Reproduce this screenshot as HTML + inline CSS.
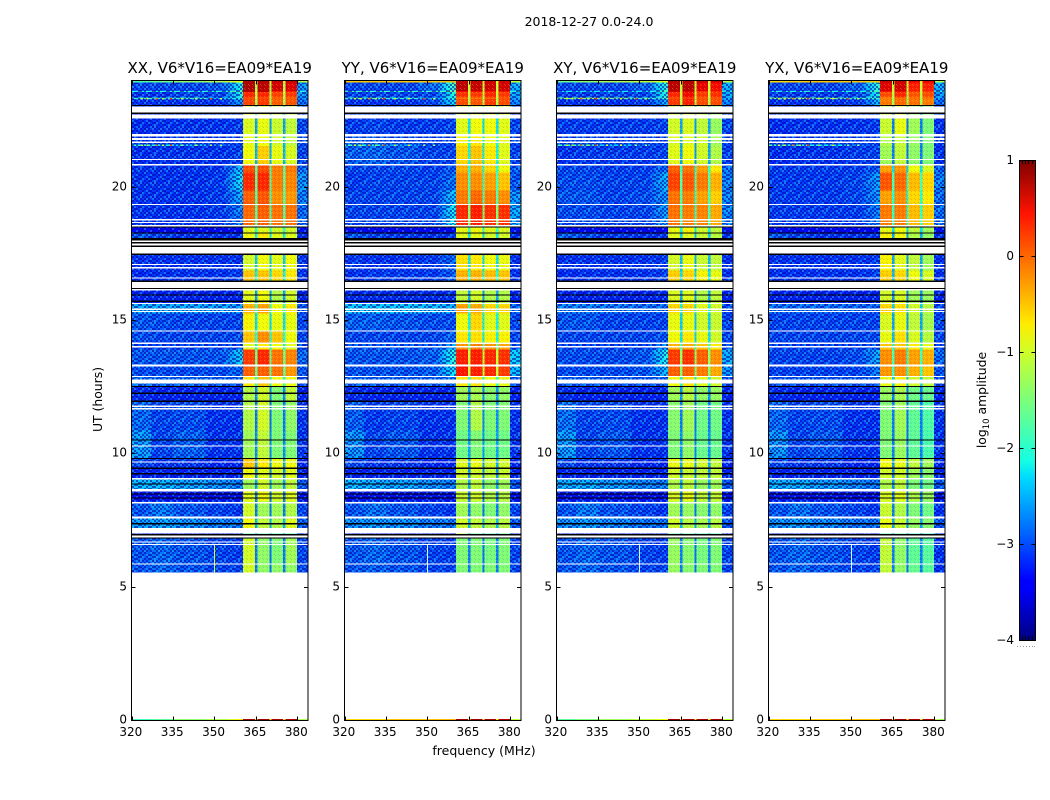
<!DOCTYPE html>
<html lang="en">
<head>
<meta charset="utf-8">
<title>2018-12-27 0.0-24.0</title>
<style>
html,body{margin:0;padding:0;background:#fff;width:1050px;height:800px;overflow:hidden}
svg{display:block}
text{font-family:"DejaVu Sans","Liberation Sans",sans-serif;fill:#000}
.tick{font-size:12px}
</style>
</head>
<body>
<svg id="figure" width="1050" height="800" viewBox="0 0 1050 800" xmlns="http://www.w3.org/2000/svg">
  <defs>
    <pattern id="speckA" width="14" height="14" patternUnits="userSpaceOnUse">
      <path fill="#0006a8" opacity=".6" d="M2 0h2v2h-2zM6 0h2v2h-2zM12 0h2v2h-2zM0 2h2v2h-2zM4 2h2v2h-2zM8 2h2v2h-2zM10 4h2v2h-2zM2 4h2v2h-2zM6 4h2v2h-2zM0 6h2v2h-2zM12 6h2v2h-2zM4 6h2v2h-2zM8 8h2v2h-2zM2 8h2v2h-2zM10 8h2v2h-2zM6 10h2v2h-2zM0 10h2v2h-2zM12 10h2v2h-2zM4 12h2v2h-2zM8 12h2v2h-2zM10 12h2v2h-2z"/>
      <path fill="#30c0ff" opacity=".42" d="M0 0h2v2h-2zM10 0h2v2h-2zM6 2h2v2h-2zM12 2h2v2h-2zM4 4h2v2h-2zM10 6h2v2h-2zM6 8h2v2h-2zM2 10h2v2h-2zM8 10h2v2h-2zM0 12h2v2h-2z"/>
    </pattern>
    <pattern id="hatch" width="4" height="4" patternUnits="userSpaceOnUse">
      <rect x="0" y="0" width="1" height="1" fill="#fff23a" opacity=".28"/><rect x="1" y="1" width="1" height="1" fill="#fff23a" opacity=".2"/>
      <rect x="2" y="2" width="1" height="1" fill="#b00000" opacity=".16"/><rect x="3" y="3" width="1" height="1" fill="#b00000" opacity=".16"/>
    </pattern>
    <linearGradient id="jetGradient" x1="0" y1="1" x2="0" y2="0"></linearGradient>
  </defs>
  <text x="589" y="26" text-anchor="middle" font-size="12.5">2018-12-27 0.0-24.0</text>
  <text x="484" y="755" text-anchor="middle" font-size="12.5">frequency (MHz)</text>
  <text x="0" y="0" transform="translate(102,399.5) rotate(-90)" text-anchor="middle" font-size="12.4">UT (hours)</text>
  <text x="0" y="0" transform="translate(986,400) rotate(-90)" text-anchor="middle" font-size="12.4">log<tspan font-size="8.5" dy="3">10</tspan><tspan dy="-3"> amplitude</tspan></text>
</svg>
<script>
// ---------- chart data ----------
const panelTitles = ["XX, V6*V16=EA09*EA19", "YY, V6*V16=EA09*EA19", "XY, V6*V16=EA09*EA19", "YX, V6*V16=EA09*EA19"];
const xTickValues = [320, 335, 350, 365, 380];
const yTickValues = [0, 5, 10, 15, 20];
const colorbarTicks = [1, 0, -1, -2, -3, -4];
const freqEdges = [320, 327, 335, 347, 354, 360.5, 364.8, 365.6, 370, 370.7, 375, 375.8, 380, 384];
const hourEdges = [24,23.92,23.6,23.56,23.36,23.31,23.06,22,21.6,21.55,20.81,20.55,19.87,19.35,18.52,18.3,17.47,16.87,16.12,15.64,15.26,14.62,14.14,13.91,13.35,12.9,12.52,12,10.87,9.82,9.49,9.07,8.59,8.21,7.65,7.2,6.9,5.89,5.55];
const zoneColumns = [0, 1, 2, 3, 4, 5, 9, 6, 9, 7, 9, 8, 10];
// each row: low1, low2, low3, low4, shoulder, sub1, sub2, sub3, sub4, gap, right
const amplitudeXX = [
[-1.8,-1.6,-1.4,-1.2,-0.8,.8,.8,.7,.7,-.9,-1.2],
[-3,-3,-3,-2.9,-2.1,.8,.75,.65,.6,-1.2,-2.6],
[-2.1,-2,-2,-2,-1.5,.75,.75,.4,.4,-1,-2],
[-3.1,-3.1,-3,-3,-2.1,.35,.35,.2,.25,-1.2,-2.6],
[-1.9,-1.9,-1.9,-2.4,-2,.1,.1,0,0,-1.2,-2.6],
[-3.1,-3.1,-3.1,-3.1,-2.6,.2,.25,.05,.1,-1.3,-2.8],
[-3.15,-3.1,-3.1,-3.1,-3.05,-.95,-.85,-1.05,-1.1,-2.6,-3],
[-3.1,-3.1,-3.05,-3.1,-3.05,-.85,-.8,-1,-1.1,-2.5,-3],
[-2,-2.1,-2.3,-2.8,-3,-.85,-.8,-1,-1.1,-2.5,-3],
[-3.15,-3.1,-3.1,-3.1,-3,-.8,-.55,-.85,-.95,-2.5,-3],
[-3.1,-3.1,-3.1,-3.1,-2.4,.15,.15,-.1,-.1,-1.8,-2.8],
[-3.1,-3.1,-3.1,-3.05,-2.2,.35,.35,-.1,-.15,-1.7,-2.6],
[-3.1,-3.1,-3.1,-3.05,-2.5,.05,.1,-.2,-.25,-1.8,-2.7],
[-3.1,-3.1,-3.1,-3.05,-2.7,0,.05,-.05,-.05,-1.8,-2.8],
[-3.35,-3.4,-3.4,-3.4,-3.4,-.9,-.9,-1,-1,-2,-3.3],
[-2.9,-3,-3.1,-3.1,-3.1,-.8,-.7,-.9,-.9,-2.2,-3.1],
[-3.1,-3.1,-3.1,-3.1,-3.1,-1,-.8,-.9,-.8,-2.4,-3.1],
[-3.15,-3.1,-3.1,-3.1,-3,-.5,-.5,-.6,-.7,-2.2,-3.1],
[-3.2,-3.2,-3.2,-3.2,-3.2,-.9,-.8,-1.2,-1,-2.6,-3.2],
[-2.5,-2.5,-2.5,-2.55,-2.6,-.4,-.3,-.8,-.7,-2,-2.9],
[-2.9,-2.95,-3,-3,-3,-.75,-.8,-.85,-.85,-2.3,-3],
[-2.95,-3,-3,-3,-2.95,-.5,-.2,-.5,-.8,-2.1,-3],
[-3,-3,-3,-3,-3,-.9,-.7,-.8,-.9,-2.2,-3],
[-2.9,-2.9,-2.9,-2.9,-2.3,.25,.35,-.05,-.15,-1.6,-2.8],
[-2.95,-2.95,-2.95,-2.95,-2.8,.05,.05,-.05,-.25,-1.7,-2.9],
[-2.75,-2.8,-2.8,-2.85,-2.9,-.7,-.5,-.8,-.8,-2.1,-3],
[-3.15,-3.2,-3.2,-3.2,-3.2,-1.2,-1,-1.5,-1.1,-2.7,-3.2],
[-2.8,-3,-2.95,-3.1,-3.1,-1.2,-1,-1.5,-1.4,-2.8,-3.1],
[-2.55,-3,-2.85,-3.1,-3.1,-1.3,-1.1,-1.5,-1.5,-2.7,-3.1],
[-3,-3.1,-3.1,-3.2,-3.2,-.5,-.7,-.8,-.8,-2.6,-3.2],
[-3.2,-3.2,-3.2,-3.2,-3.2,-.8,-.9,-1,-.9,-2.7,-3.2],
[-2.4,-2.4,-2.5,-2.6,-2.7,-1.3,-1,-1.3,-1.1,-2.6,-2.9],
[-3.3,-3.3,-3.3,-3.3,-3.3,-.9,-.8,-1,-.9,-2.8,-3.3],
[-2.9,-2.7,-2.9,-3,-3.1,-1,-1.3,-1.3,-1.2,-2.8,-3],
[-2.55,-2.5,-2.6,-2.7,-2.7,-.8,-1.1,-1.2,-.9,-2.5,-2.9],
[-3.3,-3.3,-3.3,-3.3,-3.3,-1.8,-1.7,-1.9,-1.8,-2.8,-3.3],
[-2.9,-2.8,-2.9,-3,-3.05,-1,-1.4,-1.5,-1.3,-2.8,-3],
[-2.9,-2.8,-2.9,-3,-3,-1,-1.4,-1.4,-1.4,-2.8,-3]
];
const amplitudeYY = [
[-.5,-.5,-.5,-.5,-.4,.7,.7,.65,.65,-.9,-1.1],
[-3,-3,-3,-2.8,-1.8,.75,.7,.65,.65,-1.1,-2.5],
[-1.9,-1.9,-1.9,-1.9,-1.5,.5,.5,.45,.45,-.9,-2],
[-3,-3,-3,-3,-2,.3,.25,.35,.25,-1.1,-2.5],
[-1.8,-1.8,-2,-2.5,-2,-.1,-.1,0,.05,-1.2,-2.6],
[-3.1,-3.1,-3.1,-3,-2.2,.15,.1,.25,.15,-1.2,-2.7],
[-3.05,-3,-3.05,-3.05,-3,-.9,-.8,-.8,-.9,-2.3,-3],
[-2.9,-2.9,-3,-3.05,-3,-.75,-.7,-.8,-.9,-2.2,-3],
[-1.9,-2.1,-2.5,-2.9,-3,-.7,-.65,-.8,-.9,-2.2,-3],
[-2.85,-2.8,-2.9,-3,-3,-.6,-.5,-.7,-.9,-2.2,-3],
[-3,-3,-3,-3.05,-2.9,-.4,-.4,-.6,-.8,-2.1,-2.9],
[-3.05,-3,-3,-3,-2.75,-.2,-.2,-.3,-.5,-1.9,-2.9],
[-3,-3,-3,-3,-2.35,-.1,0,-.1,-.2,-1.8,-2.6],
[-3,-3,-3,-3,-2.15,.35,.4,.3,.3,-1.5,-2.5],
[-3.35,-3.4,-3.4,-3.4,-3.35,-.85,-.8,-.9,-.95,-2,-3.3],
[-2.9,-3,-3.05,-3.1,-3.05,-.9,-.85,-1,-1,-2.3,-3.1],
[-3.05,-3.1,-3.1,-3.05,-2.8,-.65,-.7,-.8,-.85,-2.3,-3.1],
[-3.1,-3.05,-3.05,-3.05,-2.85,-.4,-.4,-.45,-.5,-2.1,-3.1],
[-3.15,-3.15,-3.15,-3.15,-3.1,-1.1,-1,-1.2,-1.2,-2.6,-3.2],
[-2.35,-2.35,-2.35,-2.4,-2.5,-.3,-.35,-.6,-.6,-2,-2.8],
[-2.85,-2.85,-2.9,-2.95,-2.95,-.8,-.6,-.9,-.9,-2.2,-3],
[-3,-3,-3,-3,-2.8,-.7,-.65,-.75,-.75,-2.2,-3],
[-2.9,-2.9,-2.9,-2.9,-2.5,-.2,-.1,-.2,-.3,-1.8,-2.9],
[-2.9,-2.9,-2.9,-2.85,-2,.4,.4,.35,.3,-1.1,-2.3],
[-2.9,-2.9,-2.9,-2.85,-2.2,.45,.4,.35,.25,-1.1,-2.4],
[-2.8,-2.85,-2.85,-2.85,-2.75,-.7,-.65,-.8,-.85,-2.1,-2.9],
[-3.15,-3.2,-3.2,-3.2,-3.2,-1.3,-1.25,-1.45,-1.4,-2.7,-3.2],
[-2.85,-3.05,-3,-3.1,-3.1,-1.5,-1.2,-1.5,-1.5,-2.7,-3.1],
[-2.6,-3,-2.9,-3.1,-3.1,-1.6,-1.5,-1.6,-1.6,-2.6,-3.1],
[-3,-3.1,-3.1,-3.2,-3.2,-.9,-.85,-1,-1,-2.6,-3.2],
[-3.2,-3.2,-3.2,-3.2,-3.2,-1,-1,-1.1,-1.05,-2.7,-3.2],
[-2.4,-2.45,-2.5,-2.6,-2.7,-1.2,-1.1,-1.4,-1.3,-2.6,-2.9],
[-3.3,-3.3,-3.3,-3.3,-3.3,-1.05,-1,-1.2,-1.15,-2.8,-3.3],
[-2.9,-2.75,-2.9,-3,-3.1,-1.3,-1.4,-1.5,-1.4,-2.8,-3],
[-2.6,-2.55,-2.6,-2.7,-2.75,-1,-1.1,-1.2,-1.15,-2.5,-2.9],
[-3.3,-3.3,-3.3,-3.3,-3.3,-1,-1.6,-1.8,-1.7,-2.8,-3.3],
[-2.9,-2.8,-2.9,-3,-3.05,-1.5,-1.5,-1.55,-1.5,-2.8,-3],
[-2.9,-2.85,-2.9,-3,-3,-1.5,-1.5,-1.5,-1.5,-2.8,-3]
];
const amplitudeXY = [
[-1.6,-1.4,-1.2,-1.1,-.9,.75,.75,.7,.65,-.9,-1.1],
[-3,-3,-3,-2.85,-2,.75,.75,.55,.5,-1.1,-2.5],
[-2.2,-2.2,-2.2,-2.2,-1.8,.6,.6,.3,.3,-1,-2.1],
[-3.05,-3.05,-3,-3,-2,.35,.5,.25,.3,-1.1,-2.5],
[-1.4,-1.3,-1.5,-1.9,-1.9,.1,.2,.05,.05,-1.2,-2.6],
[-3.1,-3.1,-3.1,-3.05,-2.5,.25,.4,.15,.15,-1.2,-2.7],
[-3.05,-3.05,-3.05,-3.05,-3,-1,-.95,-1.1,-1.35,-2.6,-3],
[-3.05,-3,-3.05,-3.05,-3,-.95,-.9,-1,-1.3,-2.6,-3],
[-1.9,-1.9,-2.3,-2.8,-3,-.95,-.9,-1,-1.3,-2.6,-3],
[-3.1,-3.05,-3.05,-3.05,-3,-.9,-.8,-1,-1.2,-2.6,-3],
[-3,-3,-3.05,-3.05,-2.8,.05,-.05,-.3,-.7,-2,-2.8],
[-2.95,-2.95,-3,-3,-2.45,.2,.1,-.1,-.4,-1.8,-2.7],
[-2.9,-2.9,-3,-2.95,-2.6,-.05,-.1,-.3,-.55,-1.9,-2.7],
[-2.95,-2.95,-3,-3,-2.55,-.05,-.1,-.15,-.35,-1.9,-2.7],
[-3.35,-3.4,-3.4,-3.4,-3.35,-.85,-.75,-1,-1.1,-2.2,-3.3],
[-2.85,-2.95,-3.05,-3.1,-3.1,-.9,-.9,-1.05,-1.15,-2.4,-3.1],
[-3.1,-3.1,-3.1,-3.1,-3.05,-1,-.85,-1.05,-1.1,-2.5,-3.1],
[-3.15,-3.1,-3.1,-3.1,-3,-.55,-.6,-.75,-.85,-2.3,-3.1],
[-3.2,-3.2,-3.2,-3.2,-3.15,-.95,-.9,-1.2,-1.1,-2.6,-3.2],
[-2.7,-2.7,-2.75,-2.8,-2.8,-.6,-.6,-.9,-1,-2.2,-3],
[-2.9,-2.9,-3,-3,-3,-.85,-.85,-1,-1.05,-2.4,-3],
[-3,-3,-3,-3,-2.9,-.8,-.7,-.85,-1,-2.3,-3],
[-3,-3,-3,-3,-2.6,-.4,-.35,-.5,-.7,-2,-2.9],
[-2.95,-2.95,-2.95,-2.9,-2.1,.25,.3,.05,-.2,-1.4,-2.5],
[-2.95,-2.95,-2.95,-2.9,-2.4,.05,.05,-.1,-.35,-1.5,-2.6],
[-2.85,-2.85,-2.9,-2.9,-2.85,-.8,-.65,-.9,-1,-2.2,-3],
[-3.15,-3.2,-3.2,-3.2,-3.2,-1.3,-1.15,-1.4,-1.35,-2.7,-3.2],
[-2.75,-3,-2.95,-3.1,-3.1,-1.45,-1.3,-1.6,-1.6,-2.8,-3.1],
[-2.55,-3,-2.9,-3.1,-3.1,-1.5,-1.4,-1.65,-1.65,-2.7,-3.1],
[-3,-3.1,-3.1,-3.2,-3.2,-.85,-.85,-1,-1.1,-2.6,-3.2],
[-3.2,-3.2,-3.2,-3.2,-3.2,-1,-1.05,-1.1,-1.1,-2.7,-3.2],
[-2.45,-2.45,-2.55,-2.65,-2.7,-1.2,-1.1,-1.35,-1.3,-2.6,-2.9],
[-3.3,-3.3,-3.3,-3.3,-3.3,-.95,-.85,-1.1,-1.05,-2.8,-3.3],
[-2.9,-2.7,-2.9,-3,-3.1,-1.3,-1.35,-1.45,-1.4,-2.8,-3],
[-2.6,-2.55,-2.65,-2.75,-2.75,-1,-1.15,-1.25,-1.15,-2.5,-2.9],
[-3.3,-3.3,-3.3,-3.3,-3.3,-1.7,-1.6,-1.85,-1.8,-2.8,-3.3],
[-2.9,-2.8,-2.9,-3,-3.05,-1.35,-1.45,-1.55,-1.5,-2.8,-3],
[-2.9,-2.8,-2.9,-3,-3,-1.35,-1.45,-1.5,-1.5,-2.8,-3]
];
const amplitudeYX = [
[-.6,-.55,-.5,-.5,-.5,.7,.7,.55,.55,-.9,-1.2],
[-3,-3,-3,-2.85,-2,.6,.65,.4,.4,-1.1,-2.5],
[-2.1,-2.1,-2.1,-2.1,-1.7,.45,.5,.25,.25,-1,-2],
[-3.05,-3.05,-3.05,-3,-2.1,.15,.35,.1,.15,-1.2,-2.6],
[-1.5,-1.4,-1.5,-1.9,-1.9,-.2,-.1,-.1,-.1,-1.3,-2.6],
[-3.1,-3.1,-3.1,-3.05,-2.4,-.1,0,-.05,-.1,-1.3,-2.8],
[-3.15,-3.1,-3.1,-3.1,-3.05,-1.05,-.85,-1.3,-1.5,-2.8,-3.1],
[-3.1,-3.1,-3.05,-3.05,-3.05,-1.2,-1.05,-1.35,-1.5,-2.8,-3.1],
[-1.9,-1.9,-2.2,-2.7,-3,-1.2,-1.05,-1.35,-1.5,-2.8,-3.1],
[-3.15,-3.1,-3.1,-3.05,-3,-1.3,-1.1,-1.4,-1.5,-2.8,-3.1],
[-3.05,-3.05,-3.05,-3.05,-2.9,-.3,-.25,-.8,-.95,-2.3,-2.9],
[-3.05,-3.05,-3.05,-3,-2.55,.1,0,-.45,-.6,-1.9,-2.7],
[-3.05,-3.05,-3.05,-3,-2.6,-.3,-.2,-.6,-.7,-2.1,-2.8],
[-3.05,-3.05,-3.05,-3.05,-2.7,-.1,-.1,-.45,-.55,-2,-2.8],
[-3.35,-3.4,-3.4,-3.4,-3.4,-.85,-.8,-1.1,-1.3,-2.3,-3.3],
[-2.9,-3,-3.1,-3.1,-3.1,-.75,-.8,-1.2,-1.4,-2.6,-3.1],
[-3.1,-3.1,-3.1,-3.1,-3.05,-.75,-.9,-1.1,-1.3,-2.6,-3.1],
[-3.1,-3.1,-3.1,-3.1,-3,-.55,-.6,-.8,-.95,-2.5,-3.1],
[-3.2,-3.2,-3.2,-3.2,-3.2,-1,-.95,-1.3,-1.35,-2.7,-3.2],
[-2.8,-2.8,-2.8,-2.85,-2.85,-.6,-.65,-1,-1.15,-2.4,-3],
[-3,-3,-3,-3,-3,-.95,-.85,-1.1,-1.25,-2.6,-3],
[-3,-3,-3,-3,-2.95,-.85,-.65,-.95,-1.15,-2.5,-3],
[-3,-3,-3,-3,-2.85,-.5,-.5,-.7,-.85,-2.2,-3],
[-3,-3,-3,-2.95,-2.5,-.2,-.1,-.3,-.4,-1.9,-2.8],
[-3,-3,-3,-3,-2.7,-.25,-.2,-.4,-.5,-2,-2.9],
[-2.9,-2.9,-2.9,-2.9,-2.9,-.85,-.75,-1,-1.1,-2.4,-3],
[-3.15,-3.2,-3.2,-3.2,-3.2,-1.35,-1.25,-1.6,-1.65,-2.8,-3.2],
[-2.8,-3,-2.95,-3.1,-3.1,-1.5,-1.3,-1.7,-1.8,-2.8,-3.1],
[-2.6,-3,-2.9,-3.1,-3.1,-1.5,-1.35,-1.7,-1.85,-2.8,-3.1],
[-3,-3.1,-3.1,-3.2,-3.2,-.8,-.85,-1.1,-1.3,-2.7,-3.2],
[-3.2,-3.2,-3.2,-3.2,-3.2,-1,-1,-1.3,-1.45,-2.8,-3.2],
[-2.45,-2.45,-2.55,-2.65,-2.75,-1.2,-1.1,-1.5,-1.6,-2.7,-2.9],
[-3.3,-3.3,-3.3,-3.3,-3.3,-.95,-.9,-1.2,-1.35,-2.8,-3.3],
[-2.9,-2.75,-2.9,-3,-3.1,-1.05,-1.2,-1.5,-1.6,-2.8,-3.1],
[-2.6,-2.55,-2.65,-2.75,-2.75,-.85,-1.05,-1.35,-1.45,-2.6,-2.9],
[-3.3,-3.3,-3.3,-3.3,-3.3,-1.7,-1.65,-1.95,-2,-2.9,-3.3],
[-2.9,-2.8,-2.9,-3,-3.05,-1.1,-1.4,-1.7,-1.75,-2.8,-3.1],
[-2.9,-2.8,-2.9,-3,-3,-1.1,-1.4,-1.65,-1.75,-2.8,-3.1]
];
const baselineHours = [0.055, 0];
const baselineXX = [-1.9,-1.7,-1.4,-1.2,-.7,.85,.85,.8,.8,-.8,-1.2];
const baselineYY = [-.6,-.6,-.5,-.5,-.4,.85,.85,.8,.8,-.8,-1.1];
const baselineXY = [-1.7,-1.5,-1.3,-1.1,-.8,.85,.85,.8,.8,-.8,-1.1];
const baselineYX = [-.6,-.6,-.55,-.5,-.5,.85,.85,.8,.8,-.8,-1.2];
const spikeHours = [23.33, 21.575];
const spikeFreqs = [323.5, 325.5, 328.7, 331, 334, 338, 343, 348.5, 352];
const spikeValuesUpper = [-1, -.9, -.1, -1.1, .35, -1, -1, .15, -1];
const spikeValuesLower = [-1, -1.1, -.1, -1.2, .25, -1.1, -.9, -1.2, -1.3];
const channelSpikeFreq = 350;
const channelSpikeHours = [6.6, 5.55];
const channelSpikeValues = [-1, -1.75, -1.75, -1.75];
const flaggedWhite = [[23.03,22.8],[22.73,22.58],[21.99,21.9],[21.85,21.77],[21.71,21.66],[21.06,21.02],[20.87,20.81],[19.37,19.33],[18.81,18.75],[18.69,18.65],[18.58,18.53],[18,17.94],[17.89,17.81],[17.76,17.51],[17.12,17.08],[17,16.95],[16.61,16.58],[16.44,16.22],[16.18,16.13],[15.66,15.62],[15.45,15.39],[15.36,15.32],[14.63,14.59],[14.18,14.12],[14.04,13.99],[13.35,13.28],[12.92,12.88],[12.79,12.64],[11.81,11.76],[11.71,11.67],[10.31,10.28],[9.71,9.68],[9.09,9.04],[8.68,8.59],[8.19,8.14],[7.65,7.58],[7.21,7.01],[6.93,6.87],[6.72,6.68],[6.62,6.59],[5.89,5.85]];
const flaggedBlack = [[23.09,23.04],[22.8,22.74],[18.53,18.49],[18.3,18.26],[18.09,18],[17.94,17.89],[17.81,17.76],[17.51,17.46],[16.5,16.44],[16.22,16.18],[15.98,15.94],[15.75,15.7],[12.54,12.51],[12.3,12.24],[12,11.95],[10.54,10.5],[9.84,9.81],[9.49,9.44],[9.28,9.23],[8.89,8.85],[8.52,8.48],[8.36,8.33],[7.4,7.35],[7,6.93],[6.86,6.83]];
const amplitudePanels = [amplitudeXX, amplitudeYY, amplitudeXY, amplitudeYX];
const baselinePanels = [baselineXX, baselineYY, baselineXY, baselineYX];
const panelLefts = [131.5, 344.5, 556.5, 768.5];

// ---------- axes and colormap ----------
const SVGNS = "http://www.w3.org/2000/svg";
const svg = document.getElementById("figure");
const plotTop = 80.5, plotBottom = 720.5, plotWidth = 176.5;
const freqMin = 320, freqMax = 384, hourMax = 24;
const cbTop = 160, cbBottom = 640, cbLeft = 1019.5, cbRight = 1035.5, vMin = -4, vMax = 1;
function yScale(h) { return plotBottom - (h / hourMax) * (plotBottom - plotTop); }
function xScale(left, f) { return left + (f - freqMin) / (freqMax - freqMin) * plotWidth; }
function cbScale(v) { return cbBottom - (v - vMin) / (vMax - vMin) * (cbBottom - cbTop); }
function pw(t, pts) {
  if (t <= pts[0][0]) return pts[0][1];
  for (let i = 1; i < pts.length; i++) {
    if (t <= pts[i][0]) {
      const a = pts[i - 1], b = pts[i];
      return a[1] + (b[1] - a[1]) * (t - a[0]) / (b[0] - a[0]);
    }
  }
  return pts[pts.length - 1][1];
}
function jet(v) {
  const t = Math.max(0, Math.min(1, (v - vMin) / (vMax - vMin)));
  const r = pw(t, [[0, 0], [.35, 0], [.66, 1], [.89, 1], [1, .5]]);
  const g = pw(t, [[0, 0], [.125, 0], [.375, 1], [.64, 1], [.91, 0], [1, 0]]);
  const b = pw(t, [[0, .5], [.11, 1], [.34, 1], [.65, 0], [1, 0]]);
  return "rgb(" + Math.round(r * 255) + "," + Math.round(g * 255) + "," + Math.round(b * 255) + ")";
}
function make(tag, attrs, parent) {
  const el = document.createElementNS(SVGNS, tag);
  for (const k in attrs) el.setAttribute(k, attrs[k]);
  parent.appendChild(el);
  return el;
}

// ---------- panels ----------
panelTitles.forEach(function (title, p) {
  const left = panelLefts[p];
  const right = left + plotWidth;
  const g = make("g", {}, svg);
  
  
  const cells = make("g", { "shape-rendering": "crispEdges" }, g);
  
  

  function drawRow(values, hTop, hBot) {
    const y0 = yScale(hTop), y1 = yScale(hBot);
    zoneColumns.forEach(function (col, z) {
      const x0 = xScale(left, freqEdges[z]), x1 = xScale(left, freqEdges[z + 1]);
      if (col === 4) {
        // the shoulder ramps from low4 up to its own value
        const steps = 4;
        for (let s = 0; s < steps; s++) {
          const xa = x0 + (x1 - x0) * s / steps;
          const v = values[3] + (values[4] - values[3]) * (s + 1) / steps;
          const ramp = make("rect", { x: xa, y: y0, width: (x1 - x0) / steps + .5, height: y1 - y0, fill: jet(v) }, cells);
          
          
        }
      } else {
        const cell = make("rect", { x: x0, y: y0, width: x1 - x0, height: y1 - y0, fill: jet(values[col]) }, cells);
        
        
      }
    });
  }
  amplitudePanels[p].forEach(function (row, i) { drawRow(row, hourEdges[i], hourEdges[i + 1]); });
  drawRow(baselinePanels[p], baselineHours[0], baselineHours[1]);

  // texture overlays
  const yA = yScale(hourEdges[1]), yB = yScale(hourEdges[hourEdges.length - 1]);
  const speck = make("rect", { x: left, y: yA, width: xScale(left, 360.5) - left, height: yB - yA, fill: "url(#speckA)" }, g);
  
  
  const speckR = make("rect", { x: xScale(left, 380), y: yA, width: xScale(left, 384) - xScale(left, 380), height: yB - yA, fill: "url(#speckA)" }, g);
  
  
  const hatch = make("rect", { x: xScale(left, 360.5), y: yA, width: xScale(left, 380) - xScale(left, 360.5), height: yB - yA, fill: "url(#hatch)" }, g);
  
  

  // spikes
  spikeHours.forEach(function (h, hi) {
    const vals = hi === 0 ? spikeValuesUpper : spikeValuesLower;
    spikeFreqs.forEach(function (f, i) {
      const s = make("rect", { x: xScale(left, f), y: yScale(h) - 0.5, width: 2, height: 1.4, fill: jet(vals[i]), "shape-rendering": "crispEdges" }, g);
      
      
    });
  });
  const vs = make("rect", { x: xScale(left, channelSpikeFreq), y: yScale(channelSpikeHours[0]), width: 1, height: yScale(channelSpikeHours[1]) - yScale(channelSpikeHours[0]), fill: p === 0 ? jet(channelSpikeValues[p]) : "#d8f4ff", "shape-rendering": "crispEdges" }, g);
  
  

  // flagged bands
  flaggedWhite.forEach(function (b) {
    const r = make("rect", { x: left, y: yScale(b[0]), width: plotWidth, height: yScale(b[1]) - yScale(b[0]), fill: "#fff", "shape-rendering": "crispEdges" }, g);
    
    
  });
  flaggedBlack.forEach(function (b) {
    const r = make("rect", { x: left, y: yScale(b[0]), width: plotWidth, height: yScale(b[1]) - yScale(b[0]), fill: "#000", "shape-rendering": "crispEdges" }, g);
    
    
  });

  // frame
  const frame = make("rect", { x: left, y: plotTop, width: plotWidth, height: plotBottom - plotTop, fill: "none", stroke: "#000", "stroke-width": 1, "shape-rendering": "crispEdges" }, g);
  
  

  // ticks
  xTickValues.forEach(function (v) {
    const x = Math.round(xScale(left, v)) + 0.5;
    const t1 = make("line", { x1: x, x2: x, y1: plotBottom, y2: plotBottom - 4, stroke: "#000" }, g);
    
    
    const t2 = make("line", { x1: x, x2: x, y1: plotTop, y2: plotTop + 4, stroke: "#000" }, g);
    
    
    const lab = make("text", { x: xScale(left, v) - 0.7, y: 736, "text-anchor": "middle", class: "tick" }, g);
    
    
    lab.textContent = String(v);
  });
  yTickValues.forEach(function (v) {
    const y = Math.round(yScale(v) - 0.5) + 0.5;
    const t1 = make("line", { x1: left, x2: left + 4, y1: y, y2: y, stroke: "#000" }, g);
    
    
    const t2 = make("line", { x1: right, x2: right - 4, y1: y, y2: y, stroke: "#000" }, g);
    
    
    const lab = make("text", { x: left - 4.5, y: y + 3, "text-anchor": "end", class: "tick" }, g);
    
    
    lab.textContent = String(v);
  });
  const ttl = make("text", { x: (left + right) / 2, y: 73, "text-anchor": "middle", "font-size": 15 }, g);
  
  
  ttl.textContent = title;
});

// ---------- colorbar ----------
const colorbarStops = [-4, -3.45, -3.375, -2.3, -2.125, -2, -1.5, -1, -.7, -.25, .25, .375, .45, 1];
const grad = document.getElementById("jetGradient");
colorbarStops.forEach(function (v) {
  const s = make("stop", { offset: (v - vMin) / (vMax - vMin), "stop-color": jet(v) }, grad);
  
  
});
const cb = make("g", {}, svg);


const cbRect = make("rect", { x: cbLeft, y: cbTop + 0.5, width: cbRight - cbLeft, height: cbBottom - cbTop, fill: "url(#jetGradient)", stroke: "#000" }, cb);


colorbarTicks.forEach(function (v) {
  const y = Math.round(cbScale(v)) + 0.5;
  const l = make("line", { x1: cbLeft, x2: cbLeft + 4, y1: y, y2: y, stroke: "#000" }, cb);
  
  
  const r = make("line", { x1: cbRight, x2: cbRight - 4, y1: y, y2: y, stroke: "#000" }, cb);
  
  
  const lab = make("text", { x: 1014, y: y + 3.5, "text-anchor": "end", class: "tick" }, cb);
  
  
  lab.textContent = String(v).replace("-", "\u2212");
});
const cbMinorTicks = [1022.5, 1025.5, 1028.5, 1032.5];
cbMinorTicks.forEach(function (x) {
  const a = make("line", { x1: x, x2: x, y1: cbTop, y2: cbTop + 4, stroke: "#000" }, cb);
  
  
  const b = make("line", { x1: x, x2: x, y1: cbBottom, y2: cbBottom - 4, stroke: "#000" }, cb);
  
  
});
const cbDots = [1017, 1020, 1023, 1026, 1029, 1032, 1034];
cbDots.forEach(function (x) {
  const d = make("rect", { x: x, y: 646, width: 1, height: 1, fill: "#999" }, cb);
  
  
});
</script>
</body>
</html>
